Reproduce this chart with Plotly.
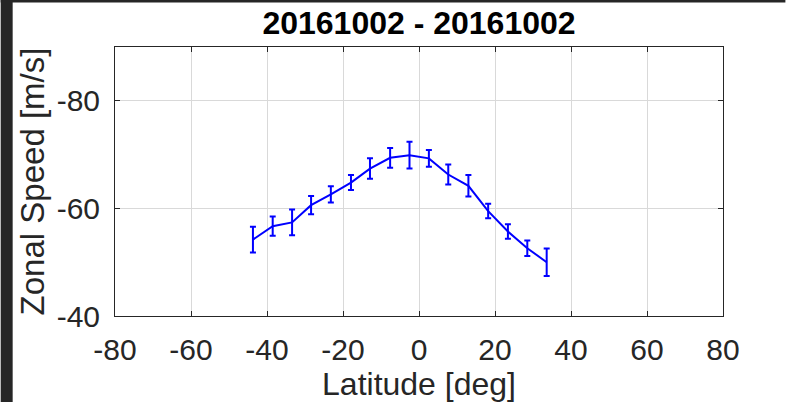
import plotly.graph_objects as go

# Zonal wind profile for a single day, with per-latitude uncertainty
latitude = [-43.7, -38.5, -33.4, -28.4, -23.2, -17.9, -12.9, -7.6,
            -2.5, 2.6, 7.7, 13.0, 18.2, 23.4, 28.5, 33.6]
zonal_speed = [-54.2, -56.7, -57.4, -60.6, -62.6, -64.8, -67.4, -69.4,
               -69.9, -69.3, -66.3, -64.2, -59.5, -55.7, -52.6, -50.0]
speed_err = [2.4, 1.8, 2.4, 1.7, 1.5, 1.4, 1.9, 1.85,
             2.5, 1.55, 1.85, 2.0, 1.35, 1.35, 1.45, 2.55]

x_ticks = [-80, -60, -40, -20, 0, 20, 40, 60, 80]
x_tick_text = ["-80", "-60", "-40", "-20", "0", "20", "40", "60", "80"]
y_ticks = [-80, -60, -40]
y_tick_text = ["-80", "-60", "-40"]

title_text = "20161002 - 20161002"
x_label = "Latitude [deg]"
y_label = "Zonal Speed [m/s]"

FONT = "Liberation Sans"
AXIS_COLOR = "#262626"
GRID_COLOR = "#d9d9d9"

fig = go.Figure()
fig.add_trace(go.Scatter(
    x=latitude,
    y=zonal_speed,
    mode="lines",
    line=dict(color="#0000ff", width=2),
    error_y=dict(type="data", array=speed_err, symmetric=True,
                 color="#0000ff", thickness=2, width=3),
    showlegend=False,
))

axis_common = dict(
    showline=True, linecolor=AXIS_COLOR, linewidth=1, mirror="ticks",
    ticks="inside", ticklen=5, tickcolor=AXIS_COLOR, tickwidth=1,
    showgrid=True, gridcolor=GRID_COLOR, gridwidth=1,
    zeroline=False,
    tickfont=dict(family=FONT, size=30, color=AXIS_COLOR),
)

fig.update_xaxes(
    range=[-80, 80], tickvals=x_ticks, ticktext=x_tick_text,
    ticklabelstandoff=7,
    title=dict(text=x_label, font=dict(family=FONT, size=32, color=AXIS_COLOR),
               standoff=0),
    **axis_common,
)
fig.update_yaxes(
    range=[-40, -90], tickvals=y_ticks, ticktext=y_tick_text,
    ticklabelstandoff=8,
    title=dict(text=y_label, font=dict(family=FONT, size=33, color=AXIS_COLOR),
               standoff=2),
    **axis_common,
)

# Dark frame strips along the left and top edges of the page
plot_l, plot_r, plot_t, plot_b = 114.5, 723.5, 47, 316
pw, ph = plot_r - plot_l, plot_b - plot_t
fig.add_shape(type="rect", xref="paper", yref="paper", layer="below",
              x0=-plot_l / pw, x1=(12 - plot_l) / pw,
              y0=-(402 - plot_b) / ph, y1=1 + plot_t / ph,
              fillcolor="#262626", line_width=0)
fig.add_shape(type="rect", xref="paper", yref="paper", layer="below",
              x0=-plot_l / pw, x1=(786 - plot_l) / pw,
              y0=1 + (plot_t - 2.5) / ph, y1=1 + plot_t / ph,
              fillcolor="#262626", line_width=0)

fig.update_layout(
    width=786, height=402,
    margin=dict(l=plot_l, r=786 - plot_r, t=plot_t, b=402 - plot_b),
    paper_bgcolor="white", plot_bgcolor="white",
    title=dict(text="<b>" + title_text + "</b>", x=(plot_l + pw / 2) / 786,
               xanchor="center", y=1 - 22.5 / 402, yanchor="middle",
               font=dict(family=FONT, size=32, color="black")),
)

fig.write_html("out.html")
